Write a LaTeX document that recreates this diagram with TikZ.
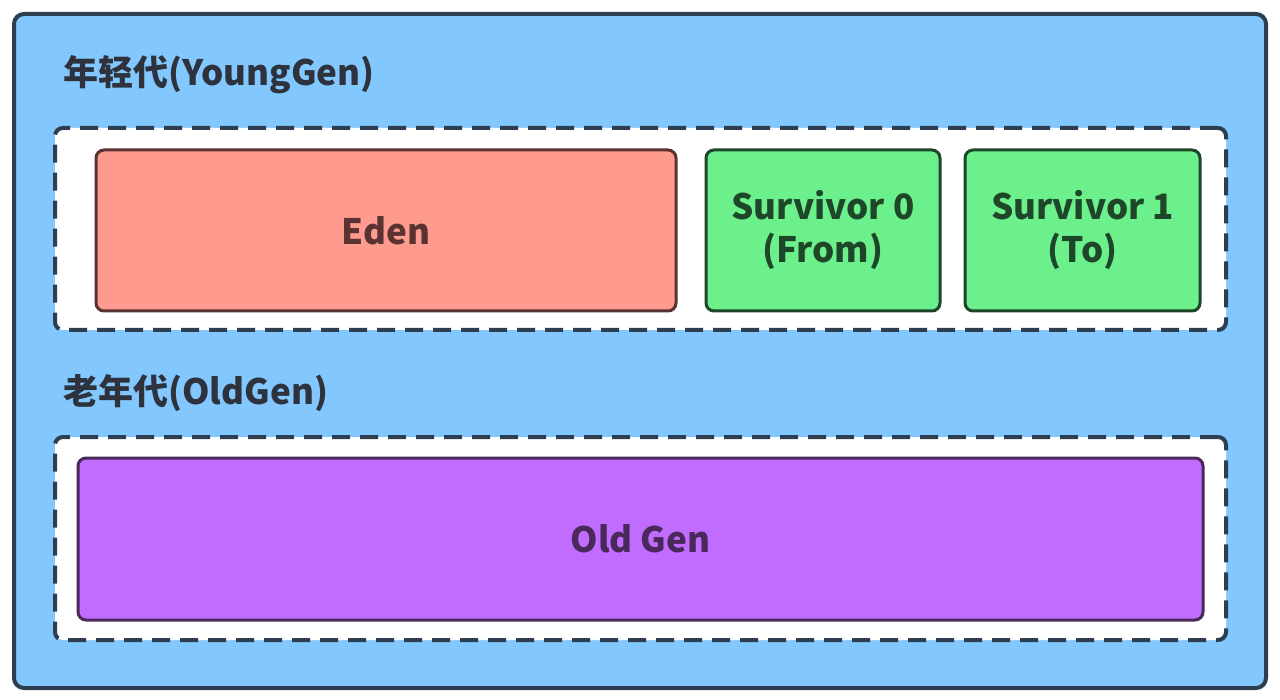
\documentclass[tikz,border=0pt]{standalone}
\usepackage{fontspec}
\setmainfont{Noto Sans CJK SC}
\usetikzlibrary{positioning}
\definecolor{heapblue}{RGB}{130, 200, 255}
\definecolor{edgeslate}{RGB}{45, 62, 80}
\definecolor{edenred}{RGB}{255, 154, 142}
\definecolor{edendark}{RGB}{90, 50, 50}
\definecolor{survgreen}{RGB}{108, 240, 140}
\definecolor{survdark}{RGB}{30, 70, 40}
\definecolor{oldpurple}{RGB}{192, 108, 255}
\definecolor{olddark}{RGB}{75, 40, 90}
\definecolor{labelgray}{RGB}{45, 50, 60}

\begin{document}
\begin{tikzpicture}[x=0.5pt, y=-0.5pt,
    genbox/.style={draw=edgeslate, line width=2pt, dash pattern=on 9pt off 5pt, fill=white, rounded corners=4pt},
    areabox/.style={line width=1.5pt, rounded corners=4pt, font=\fontsize{17.5}{21.5}\selectfont\bfseries, align=center, inner sep=0pt},
    genlabel/.style={anchor=west, text=labelgray, font=\fontsize{17.5}{20}\selectfont\bfseries, inner sep=0pt}]
    \useasboundingbox (0,0) rectangle (1280,700);

    % Heap
    \node[draw=edgeslate, line width=2pt, fill=heapblue, rounded corners=5pt,
          minimum width=626pt, minimum height=337pt] (heap) at (640,351) {};

    % Young generation
    \node[genlabel] (younglabel) at (63,75) {年轻代(YoungGen)};
    \node[genbox, minimum width=585.5pt, minimum height=101pt] (young) at (640.5,229) {};
    \node[areabox, draw=edendark, fill=edenred, text=edendark,
          minimum width=290pt, minimum height=80.5pt] (eden) at (386,230.5) {Eden};
    \node[areabox, draw=survdark, fill=survgreen, text=survdark,
          minimum width=117pt, minimum height=80.5pt] (surv0) at (823,230.5) {Survivor 0\\(From)};
    \node[areabox, draw=survdark, fill=survgreen, text=survdark,
          minimum width=117.5pt, minimum height=80.5pt] (surv1) at (1082.5,230.5) {Survivor 1\\(To)};

    % Old generation
    \node[genlabel] (oldlabel) at (63,393) {老年代(OldGen)};
    \node[genbox, minimum width=585.5pt, minimum height=101.5pt] (old) at (640.5,538.5) {};
    \node[areabox, draw=olddark, fill=oldpurple, text=olddark,
          minimum width=562.5pt, minimum height=81pt] (oldgen) at (640.5,539) {Old Gen};
\end{tikzpicture}
\end{document}
